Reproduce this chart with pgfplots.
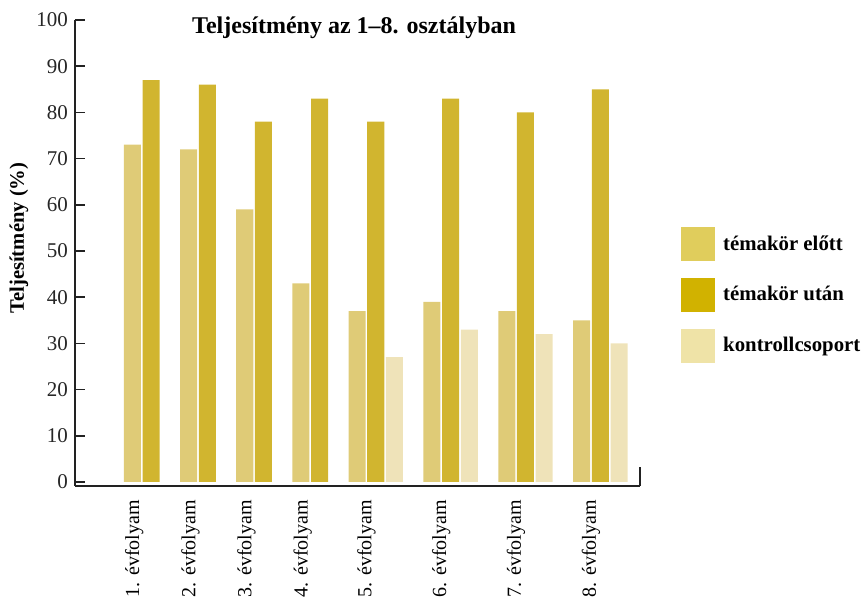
\documentclass[border=0pt]{standalone}
\usepackage{fontspec}
\setmainfont{Liberation Serif}
\usepackage{pgfplots}
\pgfplotsset{compat=1.18}
\definecolor{cA}{HTML}{DFCB77}
\definecolor{cB}{HTML}{D1B52F}
\definecolor{cC}{HTML}{EFE3B9}
\definecolor{lA}{HTML}{E0CD5C}
\definecolor{lB}{HTML}{D1B200}
\definecolor{lC}{HTML}{EFE3A7}
\definecolor{axisgray}{HTML}{222222}
\begin{document}
\begin{tikzpicture}
\begin{axis}[
  at={(37.5pt,56pt)}, anchor=south west,
  scale only axis, width=282.5pt, height=233pt,
  xmin=-3.07, xmax=27.12, ymin=-0.87, ymax=100,
  axis x line*=bottom, axis y line*=left,
  x axis line style={-, line width=0.8pt, color=axisgray},
  y axis line style={-, line width=0.8pt, color=axisgray},
  font=\fontsize{10.3pt}{12pt}\selectfont,
  /pgf/number format/assume math mode=true,
  ytick={0,10,...,100},
  tick align=inside,
  major tick length=5pt,
  ytick style={line width=0.8pt, color=axisgray},
  xtick style={draw=none},
  xtick={0.1,3.1,6.1,9.1,12.5,16.5,20.5,24.5},
  xticklabels={1. évfolyam,2. évfolyam,3. évfolyam,4. évfolyam,5. évfolyam,6. évfolyam,7. évfolyam,8. évfolyam},
  xticklabel style={rotate=90, anchor=east, font=\fontsize{10pt}{12pt}\selectfont},
  xticklabel shift=3.5pt,
  yticklabel style={font=\fontsize{10.5pt}{12pt}\selectfont, color=black!85},
  ylabel={Teljesítmény (\%)},
  ylabel style={at={(axis description cs:-0.099,0.532)}, anchor=center, font=\fontsize{10.3pt}{12pt}\selectfont\bfseries},
  legend style={at={(axis description cs:1.0726,0.556)}, anchor=north west, draw=none, fill=none, inner sep=0pt, row sep=8.5pt, font=\fontsize{10.4pt}{12pt}\selectfont\bfseries},
  legend cell align=left,
  clip=false,
]
\addplot[ybar, bar width=0.909, bar shift=0pt, fill=cA, draw=none, forget plot]
  coordinates {(0,73) (3,72) (6,59) (9,43) (12,37) (16,39) (20,37) (24,35)};
\addplot[ybar, bar width=0.909, bar shift=0pt, fill=cB, draw=none, forget plot]
  coordinates {(1,87) (4,86) (7,78) (10,83) (13,78) (17,83) (21,80) (25,85)};
\addplot[ybar, bar width=0.909, bar shift=0pt, fill=cC, draw=none, forget plot]
  coordinates {(14,27) (18,33) (22,32) (26,30)};
\addlegendimage{legend image code/.code={\fill[lA] (0pt,-8.25pt) rectangle (16.5pt,8.25pt);}}
\addlegendentry{\hspace{2pt}témakör előtt}
\addlegendimage{legend image code/.code={\fill[lB] (0pt,-8.25pt) rectangle (16.5pt,8.25pt);}}
\addlegendentry{\hspace{2pt}témakör után}
\addlegendimage{legend image code/.code={\fill[lC] (0pt,-8.25pt) rectangle (16.5pt,8.25pt);}}
\addlegendentry{\hspace{2pt}kontrollcsoport}
\draw[line width=0.8pt, color=axisgray] (rel axis cs:1,0) -- ([yshift=9.5pt]rel axis cs:1,0);
\node[anchor=base, font=\fontsize{12pt}{14pt}\selectfont\bfseries] at (axis description cs:0.494,0.972) {Teljesítmény az 1–8. osztályban};
\end{axis}
\pgfresetboundingbox
\useasboundingbox (0,0) rectangle (434pt,299pt);
\end{tikzpicture}
\end{document}
